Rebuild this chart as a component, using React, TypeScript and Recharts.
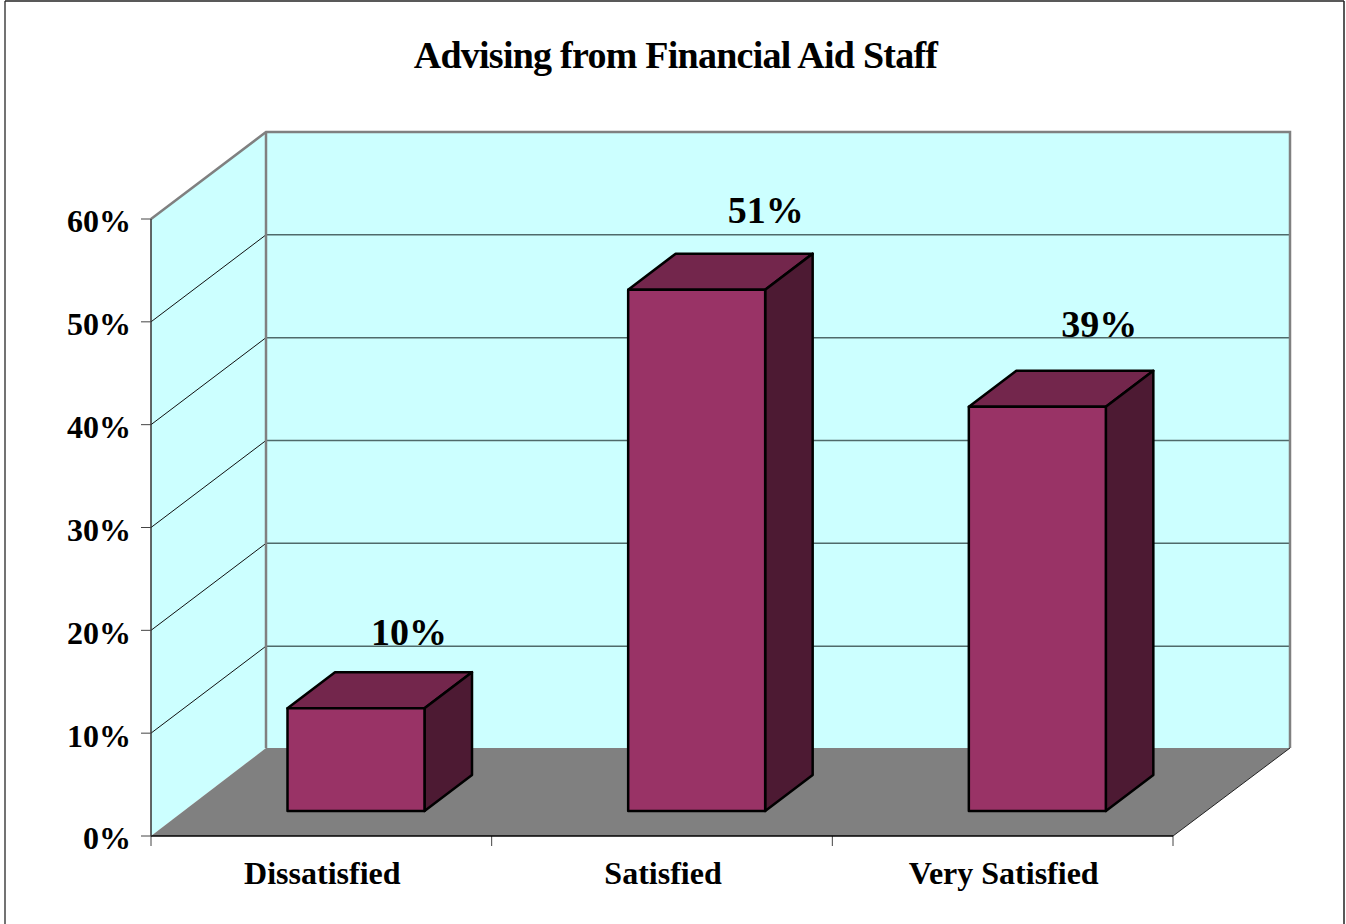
import React from 'react';
import { BarChart, Bar, XAxis, YAxis, LabelList, usePlotArea } from 'recharts';

const categories = ['Dissatisfied', 'Satisfied', 'Very Satisfied'];
const percentValues = [10, 50.7, 39.3];
const percentTicks = [0, 10, 20, 30, 40, 50, 60];
const labelNudges = [
  { dx: 53, dy: -76 },
  { dx: 69, dy: -80 },
  { dx: 62, dy: -83 },
];

const chartData = categories.map((name, i) => ({ name, value: percentValues[i] }));

const WIDTH = 1346;
const HEIGHT = 924;
const FONT = '"Liberation Serif", "Times New Roman", serif';
const WALL_DX = 115;
const WALL_DY = 88;
const WALL_TOP_DY = 87;
const BAR_INSET_DX = 34.5; // bars sit part way back on the floor
const BAR_INSET_DY = 25;
const BAR_DEPTH_DX = 47.5;
const BAR_DEPTH_DY = 36;

const Scene = () => {
  const plot = usePlotArea();
  if (!plot) return null;
  const { x, y, width, height } = plot;
  const bottom = y + height;
  const right = x + width;
  const yFor = (v: number) => bottom - (v / 60) * height;
  const backX = x + WALL_DX;
  const backRight = right + WALL_DX + 2;
  const backTop = y - WALL_TOP_DY;
  const backBottom = bottom - WALL_DY;
  return (
    <g>
      <line x1={5} y1={1} x2={5} y2={HEIGHT} stroke="#444" strokeWidth={1.5} />
      <line x1={5} y1={1} x2={1344} y2={1} stroke="#222" strokeWidth={1.5} />
      <line x1={1344} y1={1} x2={1344} y2={HEIGHT} stroke="#222" strokeWidth={1.5} />

      {/* side wall, back wall, floor */}
      <polygon points={`${x},${bottom} ${x},${y} ${backX},${backTop} ${backX},${backBottom}`} fill="#ccffff" />
      <rect x={backX} y={backTop} width={backRight - backX} height={backBottom - backTop} fill="#ccffff" />
      <polygon points={`${x},${bottom} ${backX},${backBottom} ${backRight},${backBottom} ${right},${bottom}`} fill="#808080" />

      {/* gridlines */}
      {percentTicks.slice(1, -1).map(t => (
        <g key={t}>
          <line x1={x} y1={yFor(t)} x2={backX} y2={yFor(t) - WALL_TOP_DY} stroke="#111" strokeWidth={1} />
          <line x1={backX} y1={yFor(t) - WALL_TOP_DY} x2={backRight} y2={yFor(t) - WALL_TOP_DY} stroke="#4f6a6a" strokeWidth={1.5} />
        </g>
      ))}

      {/* wall edges */}
      <path
        d={`M${x},${y} L${backX},${backTop} H${backRight} V${backBottom}`}
        fill="none"
        stroke="#808080"
        strokeWidth={2.5}
      />
      <line x1={backX} y1={backTop} x2={backX} y2={backBottom} stroke="#808080" strokeWidth={2.5} />
      <line x1={right} y1={bottom} x2={backRight} y2={backBottom} stroke="#222" strokeWidth={1} />

      {/* category separators */}
      {categories.map((_, i) => {
        const tx = x + ((i + 1) * width) / categories.length;
        return <line key={i} x1={tx} y1={bottom} x2={tx} y2={bottom + 10} stroke="#444" strokeWidth={1} />;
      })}
      <line x1={x} y1={bottom} x2={x} y2={bottom + 10} stroke="#444" strokeWidth={1} />
    </g>
  );
};

const BoxBar = (props: any) => {
  const { x, y, width, height } = props;
  const left = x + BAR_INSET_DX;
  const top = y - BAR_INSET_DY;
  const right = left + width;
  const bottom = top + height;
  const stroke = { stroke: '#000', strokeWidth: 2.5, strokeLinejoin: 'round' as const };
  return (
    <g>
      <polygon
        points={`${left},${top} ${left + BAR_DEPTH_DX},${top - BAR_DEPTH_DY} ${right + BAR_DEPTH_DX},${top - BAR_DEPTH_DY} ${right},${top}`}
        fill="#73264c"
        {...stroke}
      />
      <polygon
        points={`${right},${top} ${right + BAR_DEPTH_DX},${top - BAR_DEPTH_DY} ${right + BAR_DEPTH_DX},${bottom - BAR_DEPTH_DY} ${right},${bottom}`}
        fill="#4d1a33"
        {...stroke}
      />
      <rect x={left} y={top} width={width} height={height} fill="#993366" {...stroke} />
    </g>
  );
};

const BarValue = (props: any) => {
  const { x, y, width, value, index } = props;
  const nudge = labelNudges[index];
  return (
    <text
      x={x + width / 2 + BAR_INSET_DX + nudge.dx}
      y={y - BAR_INSET_DY + nudge.dy + 13}
      textAnchor="middle"
      fontFamily={FONT}
      fontWeight="bold"
      fontSize={38}
      fill="#000"
    >
      {Math.round(value)}%
    </text>
  );
};

export default function App() {
  return (
    <div style={{ position: 'absolute', left: 0, top: 0, width: WIDTH, height: HEIGHT, background: '#fff', overflow: 'hidden' }}>
      <BarChart
        width={WIDTH}
        height={HEIGHT}
        data={chartData}
        margin={{ top: 219, right: 173, bottom: 0, left: 0 }}
        barSize={137}
      >
        <Scene />
        <XAxis
          dataKey="name"
          height={88}
          axisLine={{ stroke: '#000', strokeWidth: 1.5 }}
          tickLine={false}
          tickMargin={19}
          dx={1}
          tick={{ fontFamily: FONT, fontWeight: 'bold', fontSize: 32, fill: '#000' }}
          interval={0}
        />
        <YAxis
          type="number"
          width={151}
          domain={[0, 60]}
          ticks={percentTicks}
          tickFormatter={(v: number) => `${v}%`}
          axisLine={{ stroke: '#333', strokeWidth: 1.5 }}
          tickLine={{ stroke: '#444' }}
          tickSize={10}
          tickMargin={10}
          dy={2}
          tick={{ fontFamily: FONT, fontWeight: 'bold', fontSize: 32, fill: '#000' }}
        />
        <Bar dataKey="value" shape={BoxBar} isAnimationActive={false}>
          <LabelList dataKey="value" content={BarValue} />
        </Bar>
        <text x={675.5} y={68} textAnchor="middle" fontFamily={FONT} fontWeight="bold" fontSize={38} letterSpacing={-0.75} fill="#000">
          Advising from Financial Aid Staff
        </text>
      </BarChart>
    </div>
  );
}
